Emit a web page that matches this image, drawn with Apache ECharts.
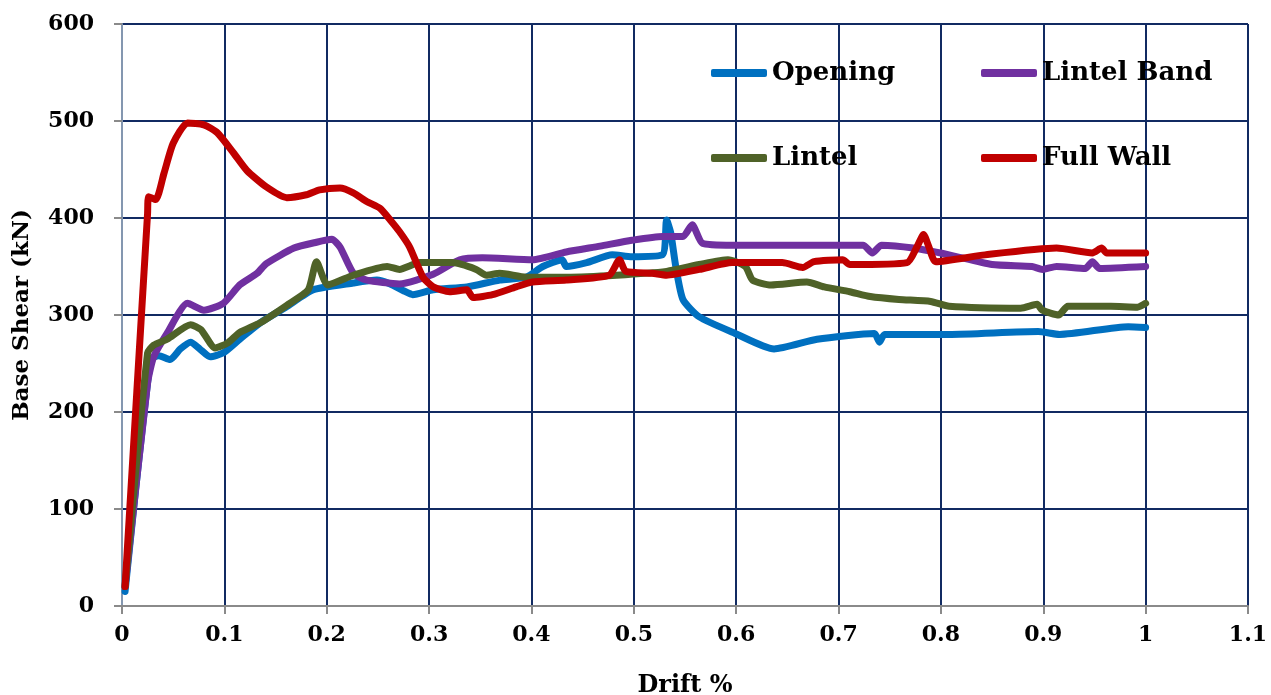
<!DOCTYPE html>
<html>
<head>
<meta charset="utf-8">
<script src="https://cdn.jsdelivr.net/npm/echarts@6/dist/echarts.min.js"></script>
<style>
  html, body { margin: 0; padding: 0; background: #fff; }
  #chart { width: 1271px; height: 695px; }
</style>
</head>
<body>
<div id="chart"></div>
<script>
// [drift %, base shear kN]
const opening = [[0.003,15],[0.028,254],[0.036,258],[0.047,254],[0.057,265],[0.067,272],[0.076,265],[0.086,257],[0.099,261],[0.115,275],[0.135,292],[0.16,308],[0.187,326],[0.226,333],[0.249,336],[0.262,332],[0.275,325],[0.284,321],[0.304,326],[0.337,329],[0.369,336],[0.395,339],[0.411,350],[0.43,357],[0.434,350],[0.454,354],[0.479,362],[0.498,360],[0.528,362],[0.532,398],[0.536,385],[0.541,350],[0.548,316],[0.564,298],[0.599,281],[0.637,265],[0.679,275],[0.735,281],[0.74,272],[0.745,280],[0.808,280],[0.895,283],[0.916,280],[0.983,288],[1.0,287]]
const lintelBand = [[0.003,20],[0.025,230],[0.031,257],[0.044,281],[0.064,312],[0.08,305],[0.099,312],[0.115,331],[0.132,343],[0.141,353],[0.168,369],[0.19,375],[0.205,378],[0.213,370],[0.226,343],[0.239,336],[0.271,332],[0.304,342],[0.33,357],[0.352,359],[0.401,357],[0.434,365],[0.467,371],[0.498,377],[0.528,381],[0.548,381],[0.557,393],[0.567,374],[0.596,372],[0.661,372],[0.724,372],[0.733,364],[0.742,372],[0.773,369],[0.808,362],[0.85,352],[0.889,350],[0.899,347],[0.913,350],[0.941,348],[0.948,355],[0.955,348],[1.0,350]]
const lintel = [[0.003,20],[0.025,261],[0.031,269],[0.044,275],[0.067,290],[0.077,285],[0.091,266],[0.103,271],[0.115,282],[0.135,292],[0.161,310],[0.182,326],[0.19,355],[0.201,331],[0.226,341],[0.259,350],[0.271,347],[0.291,354],[0.323,354],[0.346,347],[0.356,341],[0.369,343],[0.395,339],[0.434,339],[0.483,341],[0.532,345],[0.564,352],[0.592,357],[0.609,350],[0.616,336],[0.634,331],[0.669,334],[0.686,329],[0.711,324],[0.731,319],[0.759,316],[0.79,314],[0.808,309],[0.878,307],[0.894,311],[0.899,305],[0.915,300],[0.924,309],[0.966,309],[0.992,308],[1.0,312]]
const fullWall = [[0.003,20],[0.025,405],[0.026,422],[0.033,419],[0.041,446],[0.05,477],[0.064,498],[0.08,496],[0.093,488],[0.109,467],[0.122,449],[0.141,432],[0.161,421],[0.18,424],[0.193,429],[0.213,431],[0.226,426],[0.239,417],[0.252,410],[0.262,398],[0.271,386],[0.281,370],[0.294,339],[0.304,329],[0.32,324],[0.337,326],[0.343,318],[0.362,321],[0.385,329],[0.401,334],[0.434,336],[0.476,341],[0.486,357],[0.492,345],[0.518,343],[0.532,341],[0.564,347],[0.596,354],[0.645,354],[0.665,349],[0.676,355],[0.704,357],[0.711,352],[0.767,354],[0.777,371],[0.783,383],[0.788,371],[0.795,355],[0.843,362],[0.913,369],[0.948,364],[0.957,369],[0.962,364],[1.0,364]]

const names = ['Opening', 'Lintel Band', 'Lintel', 'Full Wall']
const colors = ['#0070C0', '#7030A0', '#4F6228', '#C00000']
const seriesData = [opening, lintelBand, lintel, fullWall]

const font = 'DejaVu Serif'
const gridColor = '#112a62'
const axisGray = '#8a8a8a'

// legend: 2 x 2, one component per item so the columns line up
const legendPos = [[711, 58], [981, 58], [711, 143], [981, 143]]
let legends = names.map(function (n, i) {
  return {
    data: [n],
    left: legendPos[i][0],
    top: legendPos[i][1],
    padding: 0,
    icon: 'roundRect',
    itemWidth: 56,
    itemHeight: 8,
    textStyle: {
      fontFamily: font,
      fontWeight: 'bold',
      fontSize: 26,
      color: '#000',
      lineHeight: 30
    }
  }
})

let myChart = echarts.init(document.getElementById('chart'))
myChart.setOption({
  animation: false,
  color: colors,
  legend: legends,
  grid: { left: 122, right: 23, top: 24, bottom: 89, outerBoundsMode: 'none', containLabel: false },
  xAxis: {
    type: 'value',
    min: 0,
    max: 1.1,
    interval: 0.1,
    name: 'Drift %',
    nameLocation: 'middle',
    nameGap: 68,
    nameTextStyle: { fontFamily: font, fontWeight: 'bold', fontSize: 24, color: '#000' },
    axisLine: { show: true, lineStyle: { color: axisGray, width: 2 } },
    axisTick: { show: true, length: 8, lineStyle: { color: axisGray, width: 2 } },
    splitLine: { show: true, lineStyle: { color: gridColor, width: 2 } },
    axisLabel: {
      margin: 18,
      fontFamily: font,
      fontWeight: 'bold',
      fontSize: 22,
      color: '#000',
      formatter: function (v) { return String(Math.round(v * 10) / 10) }
    }
  },
  yAxis: {
    type: 'value',
    min: 0,
    max: 600,
    interval: 100,
    name: 'Base Shear (kN)',
    nameLocation: 'middle',
    nameGap: 88,
    nameRotate: 90,
    nameTextStyle: { fontFamily: font, fontWeight: 'bold', fontSize: 23, color: '#000' },
    axisLine: { show: true, lineStyle: { color: '#8497B0', width: 2 } },
    axisTick: { show: true, length: 8, lineStyle: { color: axisGray, width: 2 } },
    splitLine: { show: true, lineStyle: { color: gridColor, width: 2 } },
    axisLabel: {
      margin: 28,
      fontFamily: font,
      fontWeight: 'bold',
      fontSize: 22,
      color: '#000'
    }
  },
  series: seriesData.map(function (d, i) {
    return {
      name: names[i],
      type: 'line',
      data: d,
      symbol: 'none',
      smooth: 0.2,
      lineStyle: { width: 7, color: colors[i], cap: 'round', join: 'round' },
      itemStyle: { color: colors[i] }
    }
  })
})
</script>
</body>
</html>
